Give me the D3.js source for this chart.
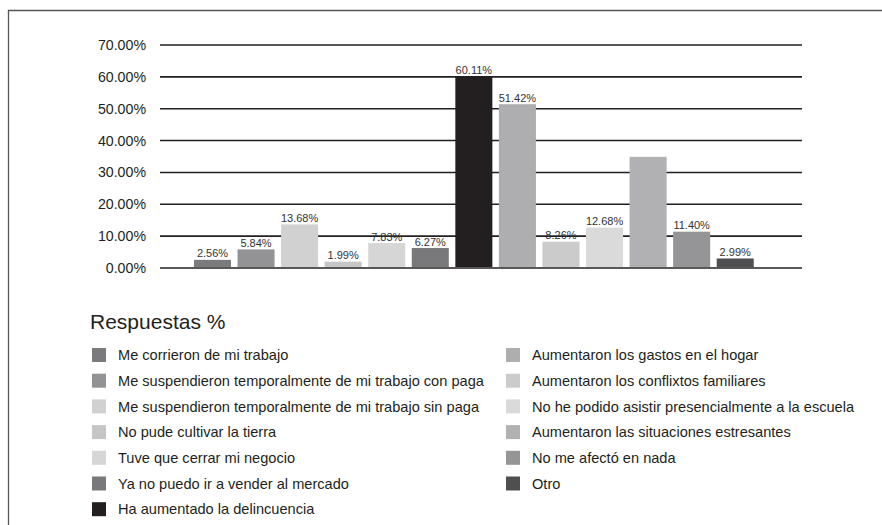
<!DOCTYPE html>
<html>
<head>
<meta charset="utf-8">
<script src="https://cdn.jsdelivr.net/npm/d3@7"></script>
<style>
  body { margin: 0; background: #fff; }
  svg { display: block; font-family: "Liberation Sans", Arial, sans-serif; }
</style>
</head>
<body>
<div id="chart"></div>
<script>
(function() {

    // data
    var categories = [
        "Me corrieron de mi trabajo",
        "Me suspendieron temporalmente de mi trabajo con paga",
        "Me suspendieron temporalmente de mi trabajo sin paga",
        "No pude cultivar la tierra",
        "Tuve que cerrar mi negocio",
        "Ya no puedo ir a vender al mercado",
        "Ha aumentado la delincuencia",
        "Aumentaron los gastos en el hogar",
        "Aumentaron los conflixtos familiares",
        "No he podido asistir presencialmente a la escuela",
        "Aumentaron las situaciones estresantes",
        "No me afectó en nada",
        "Otro"
    ];
    var values = [2.56, 5.84, 13.68, 1.99, 7.83, 6.27, 60.11, 51.42, 8.26, 12.68, 34.9, 11.40, 2.99];
    // which bars carry a value label (one bar has none in the source)
    var showLabel = [true, true, true, true, true, true, true, true, true, true, false, true, true];
    var colors = ["#7b7b7d", "#939395", "#d1d1d2", "#c6c6c8", "#d6d6d7", "#79797b", "#231f20",
                  "#aeaeb0", "#cbcbcc", "#dadadb", "#b1b1b3", "#959597", "#4f4f51"];
    var yTicks = [0, 10, 20, 30, 40, 50, 60, 70];
    var legendTitle = "Respuestas %";

    var width = 882, height = 525;
    var svg = d3.select("#chart")
        .append("svg")
        .attr("width", width)
        .attr("height", height);

    // frame (top and left edges only, as in the source)
    svg.append("path")
        .attr("d", "M8.5,525 V10.5 H882")
        .attr("fill", "none")
        .attr("stroke", "#555")
        .attr("stroke-width", 1.3);

    var y = d3.scaleLinear()
        .domain([0, 70])
        .range([268, 45]);

    var x = d3.scaleBand()
        .domain(categories)
        .range([190.7, 757])
        .paddingInner(0.15)
        .paddingOuter(0.075);

    // grid lines + tick labels
    var yAxis = d3.axisLeft(y)
        .tickValues(yTicks)
        .tickSize(0)
        .tickPadding(12)
        .tickFormat(function(d) { return d3.format(".2f")(d) + "%"; });

    var gAxis = svg.append("g")
        .attr("transform", "translate(158,0)")
        .call(yAxis);
    gAxis.select(".domain").remove();
    gAxis.selectAll("text")
        .attr("font-size", 14.2)
        .attr("font-family", "Liberation Sans, Arial, sans-serif")
        .attr("fill", "#231f20");

    svg.append("g")
        .selectAll("line")
        .data(yTicks)
        .enter()
        .append("line")
        .attr("x1", 160)
        .attr("x2", 802)
        .attr("y1", function(d) { return y(d); })
        .attr("y2", function(d) { return y(d); })
        .attr("stroke", "#231f20")
        .attr("stroke-width", 1.6);

    // bars
    var bars = svg.append("g")
        .selectAll("g")
        .data(categories)
        .enter()
        .append("g");

    bars.append("rect")
        .attr("x", function(d) { return x(d); })
        .attr("width", x.bandwidth())
        .attr("y", function(d, i) { return y(values[i]); })
        .attr("height", function(d, i) { return y(0) - y(values[i]) - 1; })
        .attr("fill", function(d, i) { return colors[i]; });

    bars.filter(function(d, i) { return showLabel[i]; })
        .append("text")
        .attr("x", function(d) { return x(d) + x.bandwidth() / 2; })
        .attr("y", function(d) { return y(values[categories.indexOf(d)]) - 2.5; })
        .attr("text-anchor", "middle")
        .attr("font-size", 11)
        .attr("fill", "#333")
        .text(function(d) { return d3.format(".2f")(values[categories.indexOf(d)]) + "%"; });

    // legend
    svg.append("text")
        .attr("x", 90)
        .attr("y", 329)
        .attr("font-size", 21)
        .attr("fill", "#231f20")
        .text(legendTitle);

    var rowH = 25.7;
    var legend = svg.append("g")
        .selectAll("g")
        .data(categories)
        .enter()
        .append("g")
        .attr("transform", function(d, i) {
            var col = i < 7 ? 0 : 1;
            var row = i < 7 ? i : i - 7;
            return "translate(" + (col ? 506 : 92) + "," + (348 + row * rowH) + ")";
        });

    legend.append("rect")
        .attr("width", 14)
        .attr("height", 14)
        .attr("fill", function(d, i) { return colors[i]; });

    legend.append("text")
        .attr("x", 26)
        .attr("y", 7)
        .attr("dy", "0.35em")
        .attr("font-size", 14.6)
        .attr("fill", "#231f20")
        .text(function(d) { return d; });

})();
</script>
</body>
</html>
